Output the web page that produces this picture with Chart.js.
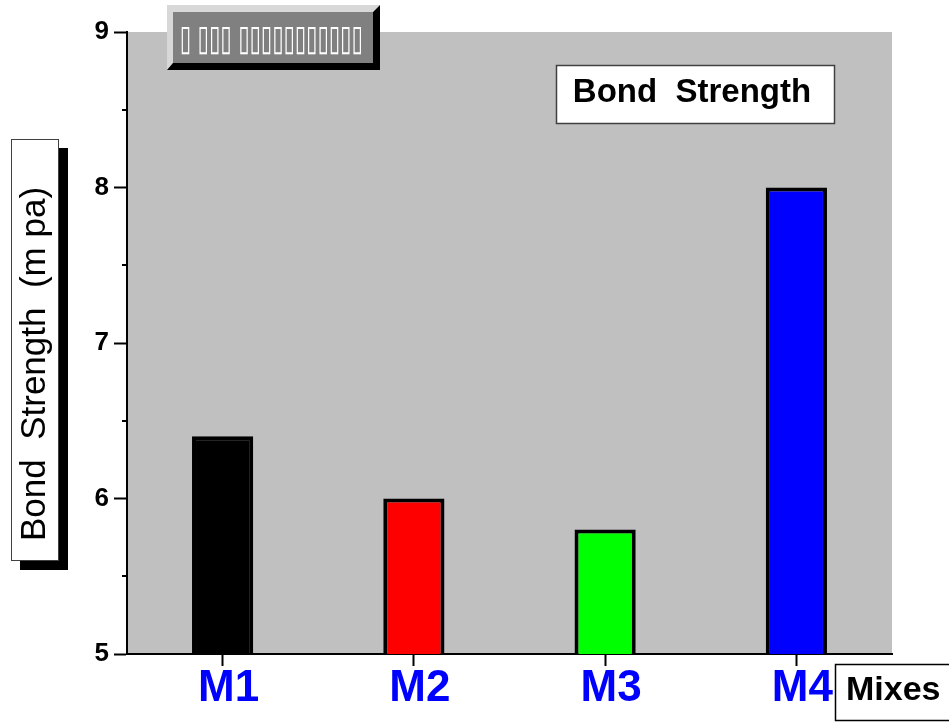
<!DOCTYPE html>
<html>
<head>
<meta charset="utf-8">
<script src="https://cdn.jsdelivr.net/npm/chart.js@4"></script>
<style>
  body { margin: 0; background: #fff; }
  canvas { display: block; }
</style>
</head>
<body>
<canvas id="bond" width="949" height="723"></canvas>
<script>
const mixes = ['M1', 'M2', 'M3', 'M4'];
const bondStrength = [6.4, 6.0, 5.8, 8.0];
const barColors = ['#000000', '#ff0000', '#00ff00', '#0000ff'];
const yMin = 5;
const yMax = 9;
const minorTicks = [5.5, 6.5, 7.5, 8.5];
const yTitle = 'Bond  Strength  (m pa)';
const boxTitle = 'Bond  Strength';
const xTitle = 'Mixes';
const buttonText = '\u25AF \u25AF\u25AF\u25AF \u25AF\u25AF\u25AF\u25AF\u25AF\u25AF\u25AF\u25AF\u25AF\u25AF\u25AF';

Chart.defaults.font.family = '"Liberation Sans", Arial, sans-serif';

// grey plot background
const plotBg = {
    id: 'plotBg',
    beforeDraw(chart) {
        const a = chart.chartArea;
        const c = chart.ctx;
        c.save();
        c.fillStyle = '#c0c0c0';
        c.fillRect(a.left, a.top, a.right - a.left, a.bottom - a.top);
        c.restore();
    }
};

// boxes, labels, minor ticks
const extras = {
    id: 'extras',
    afterDraw(chart) {
        const c = chart.ctx;
        const y = chart.scales.y;
        c.save();

        // minor ticks
        c.strokeStyle = '#000';
        c.lineWidth = 2;
        minorTicks.forEach(v => {
            const py = Math.round(y.getPixelForValue(v));
            c.beginPath();
            c.moveTo(chart.chartArea.left - 5, py);
            c.lineTo(chart.chartArea.left, py);
            c.stroke();
        });

        // button top-left
        c.fillStyle = '#d8d8d8';
        c.beginPath();
        c.moveTo(167, 5); c.lineTo(380, 5); c.lineTo(373, 12); c.lineTo(173, 12);
        c.lineTo(173, 63); c.lineTo(167, 70); c.closePath(); c.fill();
        c.fillStyle = '#000';
        c.beginPath();
        c.moveTo(380, 5); c.lineTo(380, 70); c.lineTo(167, 70); c.lineTo(173, 63);
        c.lineTo(373, 63); c.lineTo(373, 12); c.closePath(); c.fill();
        c.fillStyle = '#808080';
        c.fillRect(173, 12, 200, 51);
        c.fillStyle = '#fff';
        c.font = '36px "DejaVu Sans"';
        c.textAlign = 'left';
        c.textBaseline = 'alphabetic';
        c.fillText(buttonText, 180, 50, 183);

        // title box
        c.fillStyle = '#fff';
        c.fillRect(556, 65, 279, 59);
        c.strokeStyle = '#404040';
        c.lineWidth = 1.5;
        c.strokeRect(556.5, 65.5, 278, 58);
        c.fillStyle = '#000';
        c.font = 'bold 33px "Liberation Sans", Arial, sans-serif';
        c.textAlign = 'center';
        c.fillText(boxTitle, 692, 102);

        // y title box with shadow
        c.fillStyle = '#000';
        c.fillRect(20, 148, 48, 422);
        c.fillStyle = '#fff';
        c.fillRect(11, 139, 48, 422);
        c.strokeStyle = '#404040';
        c.lineWidth = 1;
        c.strokeRect(11.5, 139.5, 47, 421);
        c.save();
        c.translate(45, 364);
        c.rotate(-Math.PI / 2);
        c.fillStyle = '#000';
        c.font = '35px "Liberation Sans", Arial, sans-serif';
        c.textAlign = 'center';
        c.fillText(yTitle, 0, 0);
        c.restore();

        // x title box
        c.fillStyle = '#fff';
        c.fillRect(835, 664, 120, 57);
        c.strokeStyle = '#000';
        c.lineWidth = 1.5;
        c.strokeRect(835.5, 664.5, 120, 56);
        c.fillStyle = '#000';
        c.font = 'bold 34px "Liberation Sans", Arial, sans-serif';
        c.textAlign = 'left';
        c.fillText(xTitle, 846, 700);

        c.restore();
    }
};

const ctx = document.getElementById('bond').getContext('2d');

const myChart = new Chart(ctx, {
    type: 'bar',
    data: {
        labels: mixes,
        datasets: [
            {
                data: bondStrength,
                backgroundColor: barColors,
                borderColor: '#000',
                borderWidth: 4,
                barPercentage: 0.32,
                categoryPercentage: 1,
            },
        ],
    },
    options: {
        responsive: false,
        animation: false,
        layout: { padding: { left: 0, top: 32, right: 57, bottom: 0 } },
        plugins: {
            legend: { display: false },
            tooltip: { enabled: false },
        },
        scales: {
            x: {
                afterFit(scale) { scale.height = 69; },
                grid: {
                    drawOnChartArea: false,
                    offset: false,
                    tickLength: 12,
                    tickWidth: 2,
                    tickColor: '#000',
                },
                border: { display: true, color: '#000', width: 2 },
                ticks: {
                    color: '#0000ff',
                    font: { size: 44, weight: 'bold' },
                    padding: -4,
                    labelOffset: 6,
                    maxRotation: 0,
                },
            },
            y: {
                min: yMin,
                max: yMax,
                afterFit(scale) { scale.width = 127; },
                grid: {
                    drawOnChartArea: false,
                    tickLength: 13,
                    tickWidth: 2,
                    tickColor: c => Number.isInteger(c.tick.value) ? '#000' : 'rgba(0,0,0,0)',
                },
                border: { display: true, color: '#000', width: 2 },
                ticks: {
                    stepSize: 0.5,
                    color: '#000',
                    font: { size: 26, weight: 'bold' },
                    padding: 5,
                    callback: v => Number.isInteger(v) ? v : '',
                },
            },
        },
    },
    plugins: [plotBg, extras],
});
</script>
</body>
</html>
